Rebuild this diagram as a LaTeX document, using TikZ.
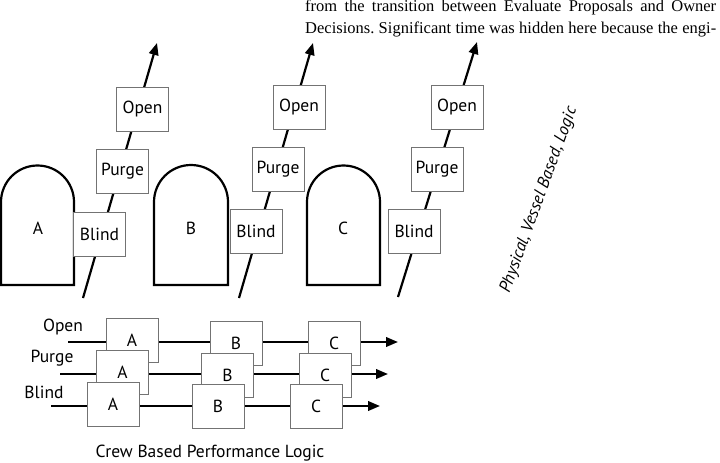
\documentclass[tikz,border=0pt]{standalone}
\usepackage{fontspec}
\setmainfont{Liberation Serif}
\setsansfont{PT Sans}
\usetikzlibrary{positioning,arrows.meta}
\tikzset{
  flowarrow/.style={-{Triangle[length=12pt,width=9.5pt]}, line width=2.2pt},
  vessel/.style={line width=2.2pt, line join=miter},
  stepbox/.style={draw=black!55, fill=white, line width=0.7pt, minimum width=52pt, minimum height=44pt, inner sep=0pt, align=center},
  rowlabel/.style={inner sep=0pt},
  booktext/.style={anchor=base west, inner sep=0pt, font=\rmfamily\frenchspacing\fontsize{16.5}{22}\selectfont}
}

\begin{document}
\begin{tikzpicture}[x=1pt, y=-1pt, every node/.style={font=\sffamily\fontsize{17.5}{19}\selectfont}]
  \useasboundingbox (0,0) rectangle (720,463);

  % running text of the page
  \node[booktext] (line1) at (305,11) {\makebox[411pt][s]{from the transition between Evaluate Proposals and Owner}};
  \node[booktext] (line2) at (305,33) {\makebox[411pt][s]{Decisions. Significant time was hidden here because the engi-}};

  % vessels
  \draw[vessel] (1,285) -- (1,202) arc[start angle=180, end angle=0, radius=36.5pt] -- (74,285) -- cycle;
  \draw[vessel] (154,285) -- (154,202) arc[start angle=180, end angle=0, radius=37pt] -- (228,285) -- cycle;
  \draw[vessel] (307,285) -- (307,202) arc[start angle=180, end angle=0, radius=36.5pt] -- (380,285) -- cycle;
  \node (va) at (38,228) {A};
  \node (vb) at (191,228) {B};
  \node (vc) at (343,228) {C};

  % physical sequence per vessel
  \coordinate (a0) at (83,298);  \coordinate (a1) at (157,43);
  \coordinate (b0) at (239,298); \coordinate (b1) at (313,43);
  \coordinate (c0) at (398,297); \coordinate (c1) at (477,42);
  \draw[flowarrow] (a0) -- (a1);
  \draw[flowarrow] (b0) -- (b1);
  \draw[flowarrow] (c0) -- (c1);
  \node[stepbox] (blinda) at (99.5,234) {Blind};
  \node[stepbox] (purgea) at (122.5,171) {Purge};
  \node[stepbox] (opena) at (142.5,109) {Open};
  \node[stepbox] (blindb) at (256,231.5) {Blind};
  \node[stepbox] (purgeb) at (278,169) {Purge};
  \node[stepbox] (openb) at (299,107) {Open};
  \node[stepbox] (blindc) at (414,231) {Blind};
  \node[stepbox] (purgec) at (437,169) {Purge};
  \node[stepbox] (openc) at (457,107) {Open};

  \node[rotate=70, font=\sffamily\itshape\fontsize{17}{19}\selectfont] (physical) at (539,200) {Physical, Vessel Based, Logic};

  % crew sequence
  \node[rowlabel] (lopen) at (63,327) {Open};
  \node[rowlabel] (lpurge) at (52,358) {Purge};
  \node[rowlabel] (lblind) at (44,392) {Blind};

  \coordinate (o0) at (68,342);  \coordinate (o1) at (398,342);
  \draw[flowarrow] (o0) -- (o1);
  \node[stepbox] (oa) at (132,340) {A};
  \node[stepbox] (ob) at (236,343) {B};
  \node[stepbox] (oc) at (334,343) {C};

  \coordinate (p0) at (60,374);  \coordinate (p1) at (388,374);
  \draw[flowarrow] (p0) -- (p1);
  \node[stepbox] (pa) at (122.5,372.5) {A};
  \node[stepbox] (pb) at (227.5,375.5) {B};
  \node[stepbox] (pc) at (325,375.5) {C};

  \coordinate (d0) at (51,406);  \coordinate (d1) at (380,406);
  \draw[flowarrow] (d0) -- (d1);
  \node[stepbox] (da) at (113,404) {A};
  \node[stepbox] (db) at (218,406.5) {B};
  \node[stepbox] (dc) at (316,406.5) {C};

  \node (crew) at (210,453) {Crew Based Performance Logic};
\end{tikzpicture}
\end{document}
